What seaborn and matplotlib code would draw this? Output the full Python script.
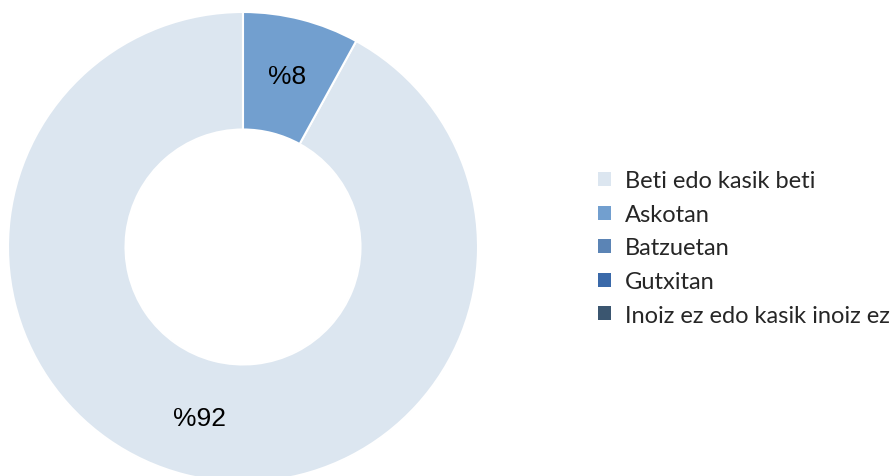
import matplotlib
matplotlib.use("Agg")
import matplotlib.pyplot as plt
from matplotlib.patches import Patch
import seaborn as sns

categories = ["Beti edo kasik beti", "Askotan", "Batzuetan", "Gutxitan", "Inoiz ez edo kasik inoiz ez"]
values = [92, 8, 0, 0, 0]
palette = sns.color_palette(["#DCE6F0", "#729FCF", "#5B84B5", "#3A69A9", "#3B5670"])

sns.set_theme(style="white")
plt.rcParams["font.family"] = ["Liberation Sans", "DejaVu Sans"]

fig = plt.figure(figsize=(8.92, 4.77), dpi=100)
ax = fig.add_axes([8 / 892, -6 / 477, 470 / 892, 470 / 477])

shown = [(v, c) for v, c in zip(values, palette) if v > 0]
wedges, _, autotexts = ax.pie(
    [v for v, _ in shown],
    colors=[c for _, c in shown],
    startangle=90,
    counterclock=True,
    radius=1.0,
    wedgeprops=dict(width=0.5, edgecolor="white", linewidth=1.5),
    autopct=lambda p: f"%{p:.0f}",
    pctdistance=0.75,
    textprops=dict(fontsize=19, color="black"),
)
ax.set_xlim(-1, 1)
ax.set_ylim(-1, 1)
ax.set_aspect("equal")
ax.axis("off")

handles = [Patch(facecolor=c, edgecolor="none") for c in palette]
fig.legend(
    handles, categories,
    loc="center left", bbox_to_anchor=(598 / 892, 0.478),
    frameon=False, borderpad=0, borderaxespad=0,
    prop=dict(family=["Lato", "DejaVu Sans"], size=17),
    handlelength=0.55, handleheight=0.55, handletextpad=0.6,
    labelspacing=0.53,
)

fig.savefig("out.png", dpi=100)
